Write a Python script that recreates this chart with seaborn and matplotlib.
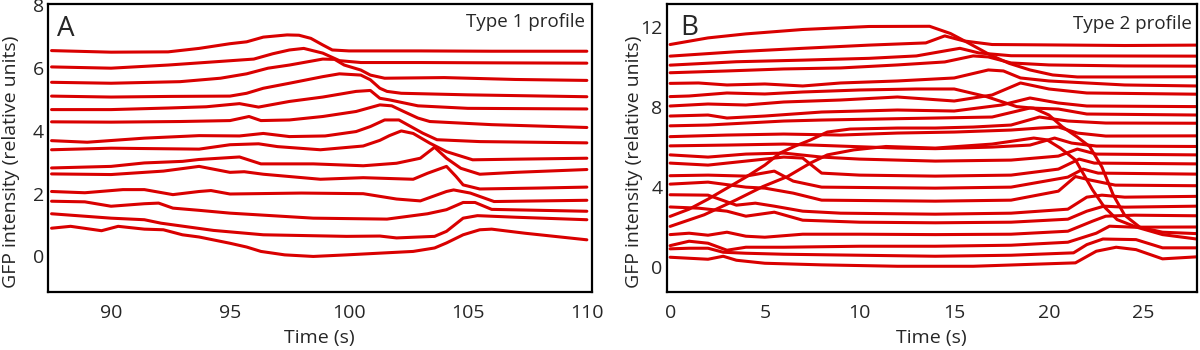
import numpy as np
import pandas as pd
import matplotlib
matplotlib.use("Agg")
import matplotlib.pyplot as plt
import seaborn as sns

# ---- panel A : type 1 profile (time in s, GFP in relative units) ----
a_times = [
    [87.5, 90, 92.4, 93.7, 95, 95.7, 96.4, 97.4, 97.9, 98.4, 98.9, 99.3, 100, 103, 106, 110],
    [87.5, 90, 92.4, 94.3, 96.0, 96.8, 97.5, 98.1, 98.9, 99.6, 100.5, 103, 106, 110],
    [87.5, 90, 92.9, 94.6, 95.7, 96.6, 97.5, 98.9, 99.4, 99.8, 100.5, 100.9, 101.5, 104, 107, 110],
    [87.5, 90, 92.5, 95, 95.7, 96.4, 97.5, 98.9, 99.6, 100.5, 100.9, 101.3, 101.6, 102.2, 105, 110],
    [87.5, 90, 92.4, 94, 95.4, 96.2, 97.5, 98.9, 100.3, 100.9, 101.3, 101.7, 102.9, 105, 110],
    [87.5, 90, 92.9, 95, 95.8, 96.3, 97.5, 98.9, 100.3, 101.3, 101.8, 102.3, 102.9, 103.4, 106, 110],
    [87.5, 89, 91.4, 93.7, 95.4, 96.4, 97.5, 99, 100.3, 100.9, 101.5, 102.1, 102.6, 103.1, 103.7, 105.5, 110],
    [87.5, 90, 93.7, 95, 96.2, 97, 98.8, 100.6, 101.3, 101.7, 102.2, 102.7, 103.4, 104.1, 105.2, 107, 110],
    [87.5, 90, 91.4, 93, 93.7, 95.4, 96.3, 98.5, 100.6, 102, 103, 103.6, 104.1, 104.7, 105.5, 107, 110],
    [87.5, 90, 92.2, 93.7, 95, 95.6, 96.4, 98.8, 100.6, 102.7, 103.3, 104.1, 104.5, 104.8, 105.5, 108, 110],
    [87.5, 88.9, 90.5, 91.4, 92.6, 93.7, 94.2, 95, 98, 100.6, 102, 103, 104.1, 104.4, 105.1, 106.1, 110],
    [87.5, 88.9, 90, 91.4, 92, 92.6, 93.7, 95, 98.5, 101.6, 103.3, 104.1, 104.8, 105.3, 106, 110],
    [87.5, 90, 91.4, 92.1, 94.3, 96.4, 99.9, 101.3, 102, 103.6, 104.1, 104.8, 105.4, 107, 110],
    [87.5, 88.3, 89.6, 90.3, 91.4, 92.2, 93, 93.7, 95, 95.7, 96.3, 97.3, 98.5, 99.9, 102.7, 103.6, 104.1,
     104.8, 105.5, 106, 107.4, 110],
]
a_values = [
    [6.56, 6.51, 6.52, 6.63, 6.78, 6.84, 6.99, 7.06, 7.05, 6.95, 6.74, 6.58, 6.55, 6.55, 6.54, 6.54],
    [6.04, 6.0, 6.1, 6.2, 6.29, 6.46, 6.58, 6.63, 6.48, 6.24, 6.18, 6.18, 6.17, 6.16],
    [5.55, 5.52, 5.57, 5.68, 5.82, 6.0, 6.1, 6.29, 6.28, 6.10, 5.94, 5.78, 5.68, 5.7, 5.64, 5.61],
    [5.11, 5.08, 5.10, 5.11, 5.2, 5.36, 5.52, 5.73, 5.82, 5.78, 5.63, 5.36, 5.26, 5.2, 5.15, 5.09],
    [4.68, 4.68, 4.73, 4.77, 4.87, 4.76, 4.94, 5.08, 5.26, 5.29, 5.04, 4.99, 4.80, 4.72, 4.70],
    [4.29, 4.28, 4.30, 4.33, 4.46, 4.33, 4.35, 4.46, 4.62, 4.83, 4.80, 4.62, 4.41, 4.30, 4.2, 4.11],
    [3.69, 3.64, 3.77, 3.85, 3.84, 3.92, 3.82, 3.84, 3.98, 4.14, 4.35, 4.35, 4.14, 3.93, 3.72, 3.66, 3.62],
    [3.40, 3.45, 3.42, 3.56, 3.59, 3.50, 3.40, 3.52, 3.70, 3.85, 4.0, 3.92, 3.61, 3.34, 3.08, 3.10, 3.13],
    [2.82, 2.87, 2.98, 3.03, 3.09, 3.17, 2.95, 2.95, 2.89, 2.97, 3.13, 3.48, 3.13, 2.81, 2.62, 2.68, 2.77],
    [2.63, 2.61, 2.72, 2.87, 2.68, 2.70, 2.62, 2.46, 2.51, 2.46, 2.65, 2.87, 2.55, 2.28, 2.15, 2.18, 2.21],
    [2.07, 2.03, 2.13, 2.13, 1.97, 2.07, 2.10, 1.99, 2.02, 2.0, 1.83, 1.77, 2.07, 2.12, 2.02, 1.75, 1.79],
    [1.76, 1.74, 1.6, 1.68, 1.70, 1.54, 1.47, 1.38, 1.22, 1.19, 1.36, 1.49, 1.72, 1.72, 1.5, 1.44],
    [1.36, 1.22, 1.17, 1.06, 0.83, 0.69, 0.64, 0.65, 0.59, 0.64, 0.80, 1.22, 1.30, 1.25, 1.17],
    [0.90, 0.96, 0.82, 0.96, 0.87, 0.85, 0.69, 0.62, 0.42, 0.30, 0.16, 0.05, 0.0, 0.05, 0.16, 0.27, 0.43,
     0.69, 0.85, 0.87, 0.74, 0.53],
]

# ---- panel B : type 2 profile ----
b_times = [
    [0, 2, 4, 7, 10.5, 13.7, 14.8, 15.8, 16.9, 17.9, 19.0, 20.2, 21.5, 24, 27.8],
    [0, 3.5, 7, 10.5, 13.5, 14.5, 15.5, 17, 20, 24, 27.8],
    [0, 3.5, 7, 10.5, 13, 14.5, 15.3, 16.3, 18, 22, 27.8],
    [0, 3, 6, 9, 12, 14.5, 16, 16.8, 18, 20, 24, 27.8],
    [0, 1.5, 3, 5, 7, 9, 12, 15, 16.8, 17.6, 18.5, 20, 22, 24, 27.8],
    [0, 1, 3, 5, 7, 10, 13, 15, 16.7, 18.3, 19.2, 20.0, 20.7, 21.5, 22.15, 22.8, 23.4, 24.0, 24.8, 26, 27.8],
    [0, 2, 4, 6, 9, 12, 15, 17, 18.5, 20, 22, 27.8],
    [0, 2, 3, 5, 8, 12, 15, 17.5, 19, 20.5, 22, 27.8],
    [0, 2, 4, 6, 8, 11, 14, 17, 19, 20.5, 22, 27.8],
    [0, 3, 6, 9, 12, 15, 18, 19.5, 20.5, 21.5, 23, 27.8],
    [0, 3, 6, 9, 12, 14, 17, 19, 20.3, 21.2, 22.5, 27.8],
    [0, 2, 4, 6, 8, 10, 14, 18, 20.5, 21.5, 22.5, 27.8],
    [0, 2, 4, 6, 7, 8, 10, 14, 18, 20.5, 21.6, 22.4, 27.8],
    [0, 2, 4, 5.5, 6.5, 8, 14, 18, 21, 21.8, 22.6, 27.8],
    [0, 2, 4, 5, 6.5, 8, 14, 18, 20.5, 21.4, 22.2, 23.5, 27.8],
    [0, 2, 3.5, 4.5, 5.5, 7, 9, 14, 18, 21, 22, 22.8, 24, 27.8],
    [0, 1.5, 3, 4, 5.5, 7, 10, 14, 18, 21, 22, 22.9, 24, 27.8],
    [0, 1, 2, 3, 4, 5, 5.8, 6.6, 7.4, 8.3, 9.5, 12, 14, 16, 18, 19.5, 21, 23, 27.8],
    [0, 1.8, 3.5, 4.9, 6.2, 7.4, 8.3, 9.7, 11.4, 14, 17, 19.2, 19.9, 20.6, 21.4, 22.3, 22.9, 23.6, 24.6,
     26, 27.8],
    [0, 1, 2, 3, 4, 5, 7, 10, 14, 18, 21, 22.3, 23, 24.5, 27.8],
    [0, 1, 2, 3, 4, 6, 10, 14, 18, 21, 22.5, 23.2, 24.5, 27.8],
    [0, 1, 2, 2.8, 4, 6, 10, 14, 18, 21.3, 22, 22.85, 24.6, 26, 27.8],
    [0, 1, 2, 2.8, 3.5, 5, 8, 12, 16, 21.4, 22.5, 23.55, 24.6, 26, 27.8],
]
b_values = [
    [11.12, 11.45, 11.65, 11.87, 12.02, 12.03, 11.67, 11.17, 10.6, 10.18, 9.85, 9.6, 9.5, 9.5, 9.51],
    [10.54, 10.76, 10.93, 11.09, 11.2, 11.55, 11.3, 11.12, 11.1, 11.07, 11.09],
    [10.09, 10.26, 10.34, 10.43, 10.55, 10.8, 10.93, 10.7, 10.56, 10.55, 10.54],
    [9.71, 9.8, 9.9, 9.95, 10.1, 10.25, 10.55, 10.5, 10.2, 10.1, 10.05, 10.04],
    [9.18, 9.2, 9.1, 9.15, 9.05, 9.2, 9.3, 9.45, 9.85, 9.8, 9.45, 9.3, 9.2, 9.1, 9.05],
    [8.52, 8.55, 8.7, 8.65, 8.75, 8.85, 8.9, 8.9, 8.52, 8.02, 7.94, 7.6, 7.02, 6.5, 6.03, 5.0, 3.6, 2.6,
     2.0, 1.75, 1.68],
    [8.05, 8.15, 8.1, 8.25, 8.35, 8.5, 8.3, 8.6, 9.2, 8.9, 8.7, 8.64],
    [7.55, 7.6, 7.45, 7.55, 7.75, 7.85, 7.8, 8.1, 8.45, 8.2, 8.05, 8.02],
    [7.06, 7.1, 7.2, 7.3, 7.35, 7.4, 7.45, 7.5, 7.95, 7.9, 7.65, 7.60],
    [6.52, 6.6, 6.65, 6.6, 6.7, 6.75, 6.85, 6.95, 7.0, 6.7, 6.55, 6.56],
    [6.06, 6.1, 6.15, 6.05, 5.95, 5.92, 6.0, 6.1, 6.45, 6.2, 6.05, 6.03],
    [5.61, 5.5, 5.65, 5.7, 5.5, 5.4, 5.3, 5.35, 5.55, 5.9, 5.65, 5.61],
    [5.20, 5.1, 5.3, 5.5, 5.45, 4.7, 4.6, 4.55, 4.6, 4.9, 5.4, 5.2, 5.16],
    [4.57, 4.6, 4.55, 4.8, 4.3, 4.0, 3.95, 4.0, 4.5, 4.9, 4.7, 4.65],
    [4.15, 4.25, 4.0, 3.95, 3.7, 3.35, 3.3, 3.35, 3.8, 4.53, 4.35, 4.1, 4.07],
    [3.62, 3.6, 3.1, 3.2, 3.05, 2.8, 2.7, 2.65, 2.7, 2.9, 3.5, 3.6, 3.5, 3.54],
    [3.01, 2.95, 2.8, 2.55, 2.75, 2.35, 2.25, 2.22, 2.25, 2.4, 2.8, 3.05, 3.0, 3.05],
    [2.54, 2.9, 3.4, 3.95, 4.5, 5.1, 5.7, 6.05, 6.35, 6.75, 6.9, 6.95, 6.95, 7.0, 7.1, 7.5, 7.3, 7.2, 7.19],
    [2.04, 2.62, 3.37, 4.03, 4.53, 5.2, 5.61, 5.86, 6.03, 5.95, 6.15, 6.45, 6.36, 5.95, 5.36, 3.87, 3.04,
     2.38, 2.01, 1.63, 1.41],
    [1.63, 1.7, 1.6, 1.75, 1.55, 1.5, 1.65, 1.65, 1.63, 1.65, 1.8, 2.3, 2.55, 2.6, 2.57],
    [1.08, 1.3, 1.2, 0.85, 1.0, 1.0, 1.05, 1.05, 1.1, 1.25, 1.7, 2.05, 2.0, 2.01],
    [0.92, 0.95, 0.95, 0.75, 0.7, 0.65, 0.6, 0.55, 0.6, 0.72, 1.13, 1.41, 1.38, 0.97, 0.97],
    [0.50, 0.45, 0.4, 0.55, 0.35, 0.2, 0.12, 0.05, 0.05, 0.22, 0.80, 1.0, 0.88, 0.42, 0.52],
]

a_xticks = [90, 95, 100, 105, 110]
b_xticks = [0, 5, 10, 15, 20, 25]
a_yticks = [0, 2, 4, 6, 8]
b_yticks = [0, 4, 8, 12]
b_yminor = [2, 6, 10]

RED = "#d90000"


def to_frame(times, values):
    rows = []
    for i, (ts, vs) in enumerate(zip(times, values)):
        for t, v in zip(ts, vs):
            rows.append((i, t, v))
    return pd.DataFrame(rows, columns=["cell", "time", "gfp"])


sns.set_style("white")
plt.rcParams["font.family"] = ["Open Sans", "DejaVu Sans"]

fig = plt.figure(figsize=(12, 3.5), dpi=100)
ax_a = fig.add_axes([0.040, 0.166, 0.453, 0.823])
ax_b = fig.add_axes([0.5556, 0.166, 0.4416, 0.823])

panels = [
    (ax_a, to_frame(a_times, a_values), (87.35, 110.2), (-1.13, 8.05), a_xticks, a_yticks,
     "A", (0.0165, 0.889), "Type 1 profile", (0.988, 0.92), -0.052),
    (ax_b, to_frame(b_times, b_values), (-0.18, 27.8), (-1.23, 13.15), b_xticks, b_yticks,
     "B", (0.025, 0.892), "Type 2 profile", (0.9906, 0.913), -0.044),
]

for ax, df, xlim, ylim, xt, yt, letter, lpos, title, tpos, ylab_x in panels:
    sns.lineplot(data=df, x="time", y="gfp", units="cell", estimator=None,
                 color=RED, lw=2.2, ax=ax, legend=False,
                 solid_joinstyle="round", solid_capstyle="round")
    ax.set_xlim(*xlim)
    ax.set_ylim(*ylim)
    ax.set_xticks(xt)
    ax.set_yticks(yt)
    ax.tick_params(direction="in", length=6, width=1.4, labelsize=14, color="black")
    ax.tick_params(axis="x", pad=9)
    ax.tick_params(axis="y", pad=3)
    for s in ax.spines.values():
        s.set_visible(True)
        s.set_color("black")
        s.set_linewidth(1.6)
    ax.set_xlabel("Time (s)", fontsize=14, labelpad=5)
    ax.set_ylabel("GFP intensity (relative units)", fontsize=14)
    ax.yaxis.set_label_coords(ylab_x, 0.452)
    ax.text(lpos[0], lpos[1], letter, transform=ax.transAxes, fontsize=20,
            va="baseline", ha="left")
    ax.text(tpos[0], tpos[1], title, transform=ax.transAxes, fontsize=13.5,
            va="baseline", ha="right")

ax_b.set_yticks(b_yminor, minor=True)
ax_b.tick_params(which="minor", direction="in", length=6, width=1.4, color="black")

fig.savefig("out.png", dpi=100)
